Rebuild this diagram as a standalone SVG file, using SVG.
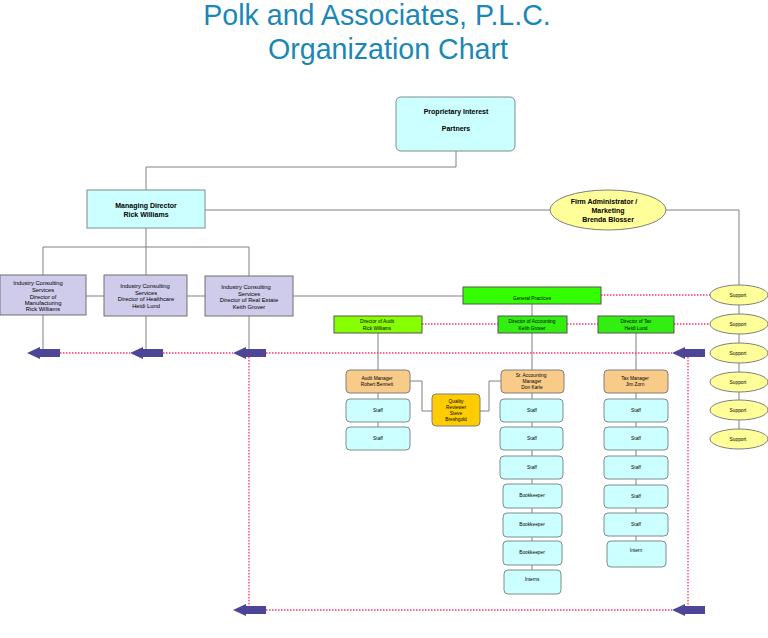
<svg xmlns="http://www.w3.org/2000/svg" width="768" height="638" viewBox="0 0 768 638">
<defs>
<style>
text{font-family:"Liberation Sans",Arial,sans-serif;fill:#000;text-anchor:middle}
.title{font-size:28.6px;fill:#1a88b6}
.t7{font-size:7px;font-weight:bold}
.t6{font-size:5.8px}
.t5{font-size:4.8px}
.cyan{fill:#ccffff;stroke:#7f8c8c;stroke-width:1}
.lav{fill:#cfcbea;stroke:#707070;stroke-width:1}
.gp{fill:#33ff00;stroke:#555;stroke-width:1}
.lime{fill:#88ff00;stroke:#555;stroke-width:1}
.grn{fill:#33ee11;stroke:#555;stroke-width:1}
.orng{fill:#f9cb89;stroke:#7f7f7f;stroke-width:1}
.gold{fill:#ffcc00;stroke:#7f7f7f;stroke-width:1}
.yel{fill:#ffff99;stroke:#7f7f7f;stroke-width:1}
.ln{fill:none;stroke:#808080;stroke-width:1}
.dot{fill:none;stroke:#ff3366;stroke-width:1.3;stroke-dasharray:1.5 1.5}
.arr{fill:#4d4596}
</style>
<path id="arrowL" d="M0,0 L13,-6 L13,-4 L33,-4 L33,4 L13,4 L13,6 Z"/>
</defs>
<rect width="768" height="638" fill="#fff"/>
<text class="title" x="377" y="25">Polk and Associates, P.L.C.</text>
<text class="title" x="388" y="59">Organization Chart</text>

<g id="connectors">
<path class="ln" d="M456,151 V167 H146 V190"/>
<path class="ln" d="M205,210 H550"/>
<path class="ln" d="M666,210 H739 V285"/>
<path class="ln" d="M146,228 V247 M43,247 H249 M43,247 V275 M146,247 V275 M249,247 V276"/>
<path class="ln" d="M86,296 H104 M187,296 H205 M293,296 H463"/>
<path class="ln" d="M43,315 V349 M146,316 V349 M249,316 V349"/>
<path class="ln" d="M532,304 V316"/>
<path class="ln" d="M378,333 V370 M532,333 V370 M636,333 V370"/>
<path class="ln" d="M410,381 H422 V411 H432 M501,381 H489 V411 H480"/>
<path class="ln" d="M378,393 V427"/>
<path class="ln" d="M532,393 V570"/>
<path class="ln" d="M636,393 V541"/>
<path class="ln" d="M739,305 V429"/>
<path class="dot" d="M601,295 H710 M422,324 H498 M567,324 H598 M674,324 H710"/>
<path class="dot" d="M60,353 H130 M163,353 H233 M266,353 H672"/>
<path class="dot" d="M249,357 V606 M688,357 V606 M266,610 H672"/>
<use href="#arrowL" class="arr" x="27" y="353"/>
<use href="#arrowL" class="arr" x="130" y="353"/>
<use href="#arrowL" class="arr" x="233" y="353"/>
<use href="#arrowL" class="arr" x="672" y="353"/>
<use href="#arrowL" class="arr" x="233" y="610"/>
<use href="#arrowL" class="arr" x="672" y="610"/>
</g>

<g id="partners"><rect class="cyan" x="396" y="97" width="119" height="54" rx="5"/>
<text class="t7" x="456" y="114">Proprietary Interest</text><text class="t7" x="456" y="131">Partners</text></g>

<g id="managing-director"><rect class="cyan" x="87" y="190" width="118" height="38"/>
<text class="t7" x="146" y="208">Managing Director</text><text class="t7" x="146" y="217">Rick Williams</text></g>

<g id="firm-admin"><ellipse class="yel" cx="608" cy="210" rx="58" ry="20"/>
<text class="t7" x="604" y="204">Firm Administrator /</text><text class="t7" x="608" y="213">Marketing</text><text class="t7" x="608" y="222">Brenda Blosser</text></g>

<g id="ics-manufacturing"><rect class="lav" x="0" y="275" width="86" height="40"/>
<text class="t6" x="38" y="285">Industry Consulting</text><text class="t6" x="43" y="292">Services</text><text class="t6" x="43" y="299">Director of</text><text class="t6" x="43" y="305">Manufacturing</text><text class="t6" x="43" y="311">Rick Williams</text></g>

<g id="ics-healthcare"><rect class="lav" x="104" y="275" width="83" height="41"/>
<text class="t6" x="145" y="288">Industry Consulting</text><text class="t6" x="146" y="295">Services</text><text class="t6" x="146" y="301">Director of Healthcare</text><text class="t6" x="146" y="308">Heidi Lund</text></g>

<g id="ics-realestate"><rect class="lav" x="205" y="276" width="88" height="40"/>
<text class="t6" x="246" y="289">Industry Consulting</text><text class="t6" x="249" y="296">Services</text><text class="t6" x="249" y="302">Director of Real Estate</text><text class="t6" x="249" y="309">Keith Grover</text></g>

<g id="general-practices"><rect class="gp" x="463" y="287" width="138" height="17"/>
<text class="t5" x="532" y="300">General Practices</text></g>

<g id="dir-audit"><rect class="lime" x="334" y="316" width="88" height="17"/>
<text class="t5" x="377" y="323">Director of Audit</text><text class="t5" x="377" y="330">Rick Williams</text></g>
<g id="dir-accounting"><rect class="grn" x="498" y="316" width="69" height="17"/>
<text class="t5" x="532" y="323">Director of Accounting</text><text class="t5" x="532" y="330">Keith Grover</text></g>
<g id="dir-tax"><rect class="grn" x="598" y="316" width="76" height="17"/>
<text class="t5" x="636" y="323">Director of Tax</text><text class="t5" x="636" y="330">Heidi Lund</text></g>

<g id="audit-manager"><rect class="orng" x="346" y="370" width="64" height="23" rx="4"/>
<text class="t5" x="377" y="380">Audit Manager</text><text class="t5" x="377" y="386">Robert Bennett</text></g>
<g id="sr-accounting-manager"><rect class="orng" x="501" y="370" width="63" height="23" rx="4"/>
<text class="t5" x="531" y="377">Sr. Accounting</text><text class="t5" x="532" y="383">Manager</text><text class="t5" x="532" y="389">Don Karle</text></g>
<g id="tax-manager"><rect class="orng" x="604" y="370" width="64" height="23" rx="4"/>
<text class="t5" x="635" y="380">Tax Manager</text><text class="t5" x="635" y="386">Jim Zorn</text></g>

<g id="quality-reviewer"><rect class="gold" x="432" y="394" width="48" height="32" rx="4"/>
<text class="t5" x="456" y="403">Quality</text><text class="t5" x="456" y="409">Reviewer</text><text class="t5" x="456" y="415">Steve</text><text class="t5" x="456" y="421">Breshgold</text></g>

<g id="audit-staff-1"><rect class="cyan" x="346" y="399" width="64" height="23" rx="4"/><text class="t5" x="378" y="412">Staff</text></g>
<g id="audit-staff-2"><rect class="cyan" x="346" y="427" width="64" height="23" rx="4"/><text class="t5" x="378" y="440">Staff</text></g>

<g id="acct-staff-1"><rect class="cyan" x="500" y="399" width="63" height="23" rx="4"/><text class="t5" x="532" y="412">Staff</text></g>
<g id="acct-staff-2"><rect class="cyan" x="500" y="427" width="63" height="23" rx="4"/><text class="t5" x="532" y="440">Staff</text></g>
<g id="acct-staff-3"><rect class="cyan" x="500" y="456" width="63" height="23" rx="4"/><text class="t5" x="532" y="469">Staff</text></g>
<g id="bookkeeper-1"><rect class="cyan" x="503" y="484" width="59" height="24" rx="4"/><text class="t5" x="532" y="497">Bookkeeper</text></g>
<g id="bookkeeper-2"><rect class="cyan" x="503" y="513" width="59" height="24" rx="4"/><text class="t5" x="532" y="526">Bookkeeper</text></g>
<g id="bookkeeper-3"><rect class="cyan" x="503" y="541" width="59" height="24" rx="4"/><text class="t5" x="532" y="554">Bookkeeper</text></g>
<g id="interns"><rect class="cyan" x="504" y="570" width="57" height="24" rx="4"/><text class="t5" x="532" y="581">Interns</text></g>

<g id="tax-staff-1"><rect class="cyan" x="604" y="399" width="64" height="23" rx="4"/><text class="t5" x="636" y="412">Staff</text></g>
<g id="tax-staff-2"><rect class="cyan" x="604" y="427" width="64" height="23" rx="4"/><text class="t5" x="636" y="440">Staff</text></g>
<g id="tax-staff-3"><rect class="cyan" x="604" y="456" width="64" height="23" rx="4"/><text class="t5" x="636" y="469">Staff</text></g>
<g id="tax-staff-4"><rect class="cyan" x="604" y="485" width="64" height="23" rx="4"/><text class="t5" x="636" y="498">Staff</text></g>
<g id="tax-staff-5"><rect class="cyan" x="604" y="513" width="64" height="23" rx="4"/><text class="t5" x="636" y="526">Staff</text></g>
<g id="intern"><rect class="cyan" x="607" y="541" width="59" height="26" rx="4"/><text class="t5" x="636" y="552">Intern</text></g>

<g id="support-1"><ellipse class="yel" cx="739" cy="295" rx="29" ry="10"/><text class="t5" x="738" y="297">Support</text></g>
<g id="support-2"><ellipse class="yel" cx="739" cy="324" rx="29" ry="10"/><text class="t5" x="738" y="326">Support</text></g>
<g id="support-3"><ellipse class="yel" cx="739" cy="353" rx="29" ry="10"/><text class="t5" x="738" y="355">Support</text></g>
<g id="support-4"><ellipse class="yel" cx="739" cy="382" rx="29" ry="10"/><text class="t5" x="738" y="384">Support</text></g>
<g id="support-5"><ellipse class="yel" cx="739" cy="410" rx="29" ry="10"/><text class="t5" x="738" y="412">Support</text></g>
<g id="support-6"><ellipse class="yel" cx="739" cy="439" rx="29" ry="10"/><text class="t5" x="738" y="441">Support</text></g>
</svg>
